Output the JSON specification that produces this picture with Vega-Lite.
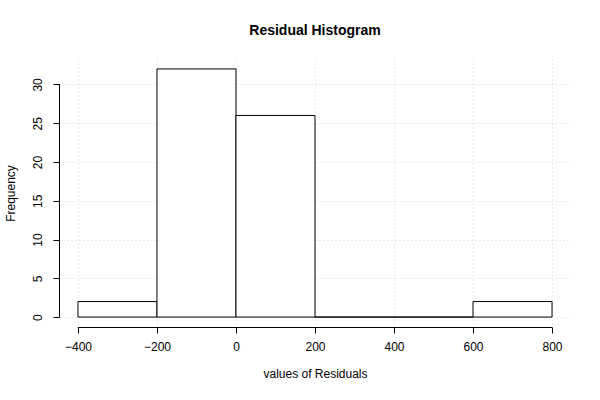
{
  "$schema": "https://vega.github.io/schema/vega-lite/v6.json",
  "description": "Residual histogram, base-R look.",
  "autosize": "none",
  "width": 512,
  "height": 268,
  "padding": {"left": 59, "top": 59, "right": 29, "bottom": 73},
  "background": "white",
  "title": {
    "text": "Residual Histogram",
    "font": "Liberation Sans",
    "fontSize": 14,
    "fontWeight": "bold",
    "color": "black",
    "anchor": "middle",
    "offset": 21
  },
  "config": {
    "view": {"stroke": null},
    "axis": {
      "labelFont": "Liberation Sans",
      "titleFont": "Liberation Sans",
      "labelFontSize": 12,
      "titleFontSize": 12,
      "titleFontWeight": "normal",
      "labelColor": "black",
      "titleColor": "black",
      "tickColor": "black",
      "domain": false,
      "gridColor": "#d3d3d3",
      "gridDash": [1, 3],
      "tickSize": 6
    }
  },
  "datasets": {
    "bins": [
      {"lo": -400, "hi": -200, "count": 2},
      {"lo": -200, "hi": 0, "count": 32},
      {"lo": 0, "hi": 200, "count": 26},
      {"lo": 200, "hi": 400, "count": 0},
      {"lo": 400, "hi": 600, "count": 0},
      {"lo": 600, "hi": 800, "count": 2}
    ]
  },
  "layer": [
    {
      "data": {"name": "bins"},
      "mark": {"type": "rect", "fill": "white", "stroke": "black", "strokeWidth": 1},
      "encoding": {
        "x": {
          "field": "lo",
          "type": "quantitative",
          "scale": {"domain": [-448, 848], "nice": false, "zero": false},
          "axis": {
            "values": [-400, -200, 0, 200, 400, 600, 800],
            "title": "values of Residuals",
            "labelPadding": 8,
            "titlePadding": 16
          }
        },
        "x2": {"field": "hi"},
        "y": {
          "field": "count",
          "type": "quantitative",
          "scale": {"domain": [-1.28, 33.28], "nice": false, "zero": false},
          "axis": {
            "values": [0, 5, 10, 15, 20, 25, 30],
            "title": "Frequency",
            "labelAngle": 270,
            "labelAlign": "center",
            "labelBaseline": "bottom",
            "labelPadding": 9,
            "titlePadding": 14
          }
        },
        "y2": {"datum": 0}
      }
    },
    {
      "data": {"name": "bins"},
      "mark": {"type": "rule", "color": "black", "strokeWidth": 1, "yOffset": 0.5},
      "encoding": {
        "x": {"datum": -400, "type": "quantitative"},
        "x2": {"datum": 800},
        "y": {"datum": -1.28, "type": "quantitative"}
      }
    },
    {
      "data": {"name": "bins"},
      "mark": {"type": "rule", "color": "black", "strokeWidth": 1, "xOffset": 0.5},
      "encoding": {
        "x": {"datum": -448, "type": "quantitative"},
        "y": {"datum": 0, "type": "quantitative"},
        "y2": {"datum": 30}
      }
    }
  ]
}
